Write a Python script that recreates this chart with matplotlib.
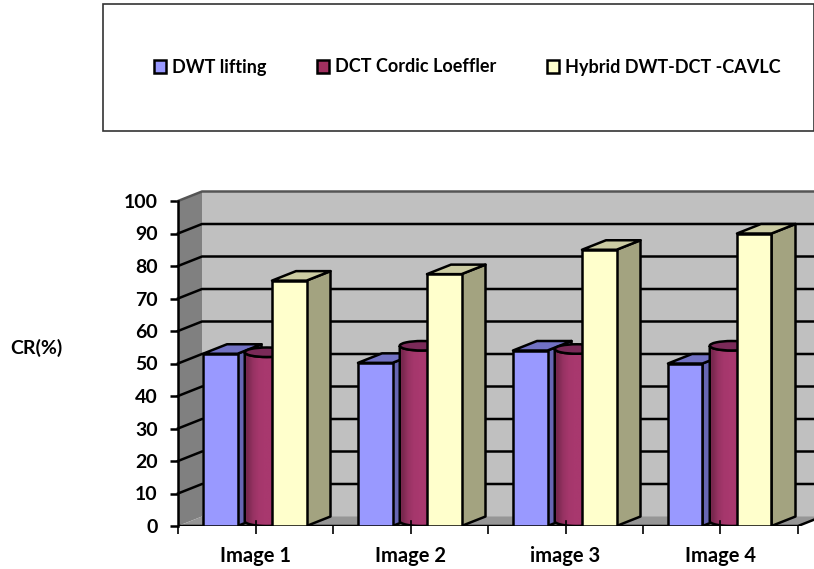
import numpy as np
import matplotlib
matplotlib.use('Agg')
import matplotlib.pyplot as plt
from matplotlib.patches import Polygon, Rectangle, Ellipse, Patch

plt.rcParams['font.family'] = ['Lato', 'DejaVu Sans']
plt.rcParams['font.weight'] = 'bold'

# Data
categories = ['Image 1', 'Image 2', 'image 3', 'Image 4']
dwt_lifting = [53, 50.2, 54, 50]
dct_cordic = [52, 54, 53, 54]
hybrid = [75.5, 77.5, 85, 90]
yticks = list(range(0, 101, 10))
series_names = ['DWT lifting', 'DCT Cordic Loeffler', 'Hybrid DWT-DCT -CAVLC']

W, H = 814, 569
fig = plt.figure(figsize=(W / 100, H / 100), dpi=100)

# axes: 0..100 sits on pixel rows 526..201, one category is 155 px wide
ax = fig.add_axes([178 / W, (H - 526) / H, (W - 178) / W, 325 / H])
ax.set_ylim(0, 100)
ax.set_xlim(-0.5, -0.5 + (W - 178) / 155)

dx = 24 / 155   # depth of the fake 3d
dy = 9.5 / 3.25
bw = 34.5 / 155
x_right = ax.get_xlim()[1]
x_end = len(categories) - 0.5
lw = 1.8

# walls and floor
ax.add_patch(Polygon([(-0.5, 0), (-0.5 + dx, dy), (-0.5 + dx, 100 + dy), (-0.5, 100)],
                     fc='#808080', ec='none', zorder=1, clip_on=False))
ax.add_patch(Polygon([(-0.5 + dx, dy), (x_right, dy), (x_right, 100 + dy), (-0.5 + dx, 100 + dy)],
                     fc='#c0c0c0', ec='none', zorder=1, clip_on=False))
edge_y = (x_right - x_end) / dx * dy
ax.add_patch(Polygon([(-0.5, 0), (-0.5 + dx, dy), (x_right, dy), (x_right, edge_y), (x_end, 0)],
                     fc='#969696', ec='none', zorder=1))

# gridlines
for v in yticks:
    if v == 0:
        continue
    c = '#555555' if v == 100 else 'black'
    ax.plot([-0.5, -0.5 + dx, x_right], [v, v + dy, v + dy], color=c, lw=lw, zorder=2, clip_on=False)
ax.plot([-0.5, x_end, x_right], [0, 0, edge_y], color='black', lw=lw, zorder=3)


def box(x0, v, front, top, side, z):
    x1 = x0 + bw
    ax.add_patch(Polygon([(x1, 0), (x1 + dx, dy), (x1 + dx, v + dy), (x1, v)],
                         fc=side, ec='black', lw=lw, zorder=z, joinstyle='round'))
    ax.add_patch(Polygon([(x0, v), (x0 + dx, v + dy), (x1 + dx, v + dy), (x1, v)],
                         fc=top, ec='black', lw=lw, zorder=z, joinstyle='round'))
    ax.add_patch(Rectangle((x0, 0), bw, v, fc=front, ec='black', lw=lw, zorder=z + 0.1))


def cylinder(x0, v, z):
    # centre of the cylinder is half way into the depth
    cx = x0 + bw / 2 + dx / 2
    r = 22 / 155
    ry = dy / 2
    cy0, cy1 = dy / 2, v + dy / 2
    t = np.linspace(np.pi, 2 * np.pi, 40)
    verts = [(cx - r, cy1)] + [(cx + r * np.cos(a), cy0 + ry * np.sin(a)) for a in t] + [(cx + r, cy1)]
    t2 = np.linspace(0, np.pi, 40)
    verts += [(cx + r * np.cos(a), cy1 - ry * np.sin(a)) for a in t2]
    body = Polygon(verts, fc='none', ec='black', lw=lw, zorder=z + 0.2)
    ax.add_patch(body)
    shade = np.array([0.72, 0.9, 0.98, 1.0, 1.0, 0.95, 0.88, 0.8])[None, :, None] * np.array([[[168, 56, 110]]]) / 255
    im = ax.imshow(shade, extent=(cx - r, cx + r, cy0 - ry, cy1 + ry), aspect='auto',
                   interpolation='bilinear', zorder=z + 0.1)
    im.set_clip_path(body)
    ax.add_patch(Ellipse((cx, cy1), 2 * r, 2 * ry, fc='#7a2a58', ec='black', lw=lw, zorder=z + 0.3))


for i in range(len(categories)):
    x0 = i - 52.5 / 155
    box(x0, dwt_lifting[i], '#9999ff', '#7272c4', '#6666b3', 4 + 3 * i)
    cylinder(x0 + bw, dct_cordic[i], 5 + 3 * i)
    box(x0 + 2 * bw, hybrid[i], '#ffffcc', '#cccca3', '#a3a380', 6 + 3 * i)
    # the centre tick pokes up over the bars
    ax.plot([i, i], [0, 1.6], color='black', lw=1.2, zorder=40)

ax.set_xlim(-0.5, -0.5 + (W - 178) / 155)
ax.set_ylim(0, 100)

# ticks
for s in ax.spines.values():
    s.set_visible(False)
ax.spines['left'].set_visible(True)
ax.spines['left'].set_linewidth(lw)
ax.spines['left'].set_zorder(3)
ax.patch.set_visible(False)
ax.set_yticks(yticks)
ax.tick_params(axis='y', length=6, width=lw, labelsize=14, pad=8.5)
edges = np.arange(0, len(categories) + 1) - 0.5
ax.set_xticks(edges)
ax.set_xticklabels([])
ax.set_xticks(range(len(categories)), categories, minor=True)
ax.tick_params(axis='x', which='major', length=6, width=1.2)
ax.tick_params(axis='x', which='minor', length=6, width=1.2, labelsize=14.5, pad=8.5)

fig.text(36 / W, 1 - 348 / H, 'CR(%)', fontsize=14, ha='center', va='center')

# legend in its own box
fig.add_artist(Rectangle((102.5 / W, 1 - 130.5 / H), 711 / W, 126.5 / H, transform=fig.transFigure,
                         fc='white', ec='#333333', lw=1.2))
handles = [Patch(fc='#9999ff', ec='black', lw=lw), Patch(fc='#a0305f', ec='black', lw=lw),
           Patch(fc='#ffffcc', ec='black', lw=lw)]
fig.legend(handles, series_names, ncol=3, frameon=False, fontsize=13,
           loc='center', bbox_to_anchor=(467 / W, 1 - 67 / H),
           handlelength=0.7, handleheight=0.7, handletextpad=0.3, columnspacing=2.8)

fig.savefig('out.png', dpi=100)
